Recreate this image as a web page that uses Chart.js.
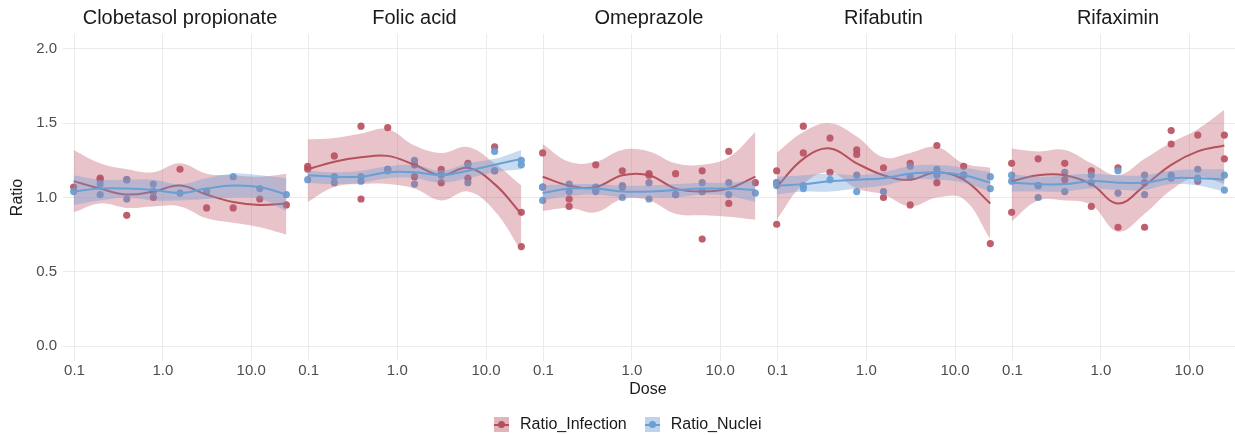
<!DOCTYPE html>
<html>
<head>
<meta charset="utf-8">
<script src="https://cdn.jsdelivr.net/npm/chart.js@4/dist/chart.umd.min.js"></script>
<style>
  body { margin: 0; background: #fff; font-family: "Liberation Sans", Arial, sans-serif; }
  #wrap { position: relative; width: 1235px; height: 435px; }
  .panel { position: absolute; top: 0; height: 384px; }
  #dose { position: absolute; top: 380px; left: 598px; width: 100px; text-align: center; font-size: 16px; color: #1a1a1a; }
  #legend { position: absolute; top: 415px; left: 494px; display: flex; align-items: center; font-size: 16px; color: #1a1a1a; }
  .key { position: relative; width: 15px; height: 15px; margin-right: 11px; }
  .key i { position: absolute; left: 0; right: 0; top: 7px; height: 2px; }
  .key b { position: absolute; left: 4px; top: 4px; width: 7px; height: 7px; border-radius: 50%; }
</style>
</head>
<body>
<div id="wrap">
  <div class="panel" style="left:0;width:297px"><canvas id="p0"></canvas></div>
  <div class="panel" style="left:297px;width:235px"><canvas id="p1"></canvas></div>
  <div class="panel" style="left:532px;width:234px"><canvas id="p2"></canvas></div>
  <div class="panel" style="left:766px;width:235px"><canvas id="p3"></canvas></div>
  <div class="panel" style="left:1001px;width:234px"><canvas id="p4"></canvas></div>
  <div id="dose">Dose</div>
  <div id="legend">
    <div class="key" style="background:rgba(190,90,105,0.45)"><i style="background:#b5505d"></i><b style="background:#b5505d"></b></div>
    <span style="margin-right:18px">Ratio_Infection</span>
    <div class="key" style="background:rgba(110,160,215,0.45)"><i style="background:#6a9fd3"></i><b style="background:#6a9fd3"></b></div>
    <span>Ratio_Nuclei</span>
  </div>
</div>
<script>
// doses (2-fold dilution)
const doses = [0.0977, 0.195, 0.39, 0.78, 1.5625, 3.125, 6.25, 12.5, 25];
const drugs = ['Clobetasol propionate', 'Folic acid', 'Omeprazole', 'Rifabutin', 'Rifaximin'];
const xTicks = [0.1, 1, 10];
const yTicks = [0, 0.5, 1, 1.5, 2];

// points: [dose index, ratio]
const clobInfPts = [[0,1.07],[1,1.13],[1,1.12],[2,0.88],[2,1.12],[3,1.00],[3,1.04],[4,1.19],[5,0.93],[6,0.93],[7,0.99],[8,0.95]];
const clobNucPts = [[0,1.04],[1,1.09],[1,1.02],[2,1.12],[2,0.99],[3,1.09],[3,1.04],[4,1.03],[5,1.04],[6,1.14],[7,1.06],[8,1.02]];
const folicInfPts = [[0,1.21],[0,1.19],[1,1.28],[2,1.48],[2,0.99],[3,1.47],[3,1.19],[4,1.22],[4,1.14],[5,1.19],[5,1.10],[6,1.23],[6,1.13],[7,1.34],[7,1.18],[8,0.90],[8,0.67]];
const folicNucPts = [[0,1.12],[1,1.14],[1,1.10],[2,1.14],[2,1.11],[3,1.19],[3,1.18],[4,1.25],[4,1.09],[5,1.16],[5,1.15],[6,1.10],[6,1.22],[7,1.31],[7,1.18],[8,1.25],[8,1.22]];
const omeInfPts = [[0,1.30],[0,1.07],[1,0.99],[1,0.94],[2,1.22],[2,1.05],[3,1.18],[3,1.07],[4,1.15],[4,1.16],[5,1.16],[5,1.02],[6,1.18],[6,0.72],[6,1.04],[7,1.31],[7,0.96],[8,1.10]];
const omeNucPts = [[0,1.07],[0,0.98],[1,1.09],[1,1.04],[2,1.07],[2,1.04],[3,1.08],[3,1.00],[4,1.10],[4,0.99],[5,1.02],[6,1.10],[6,1.04],[7,1.10],[7,1.02],[8,1.03]];
const rifbInfPts = [[0,1.18],[0,0.82],[0,1.10],[1,1.48],[1,1.30],[2,1.40],[2,1.17],[3,1.32],[3,1.29],[4,1.20],[4,1.00],[5,1.23],[5,0.95],[6,1.35],[6,1.10],[7,1.21],[7,1.15],[8,0.69]];
const rifbNucPts = [[0,1.10],[0,1.08],[1,1.08],[1,1.06],[2,1.12],[3,1.15],[3,1.04],[4,1.04],[5,1.21],[5,1.14],[6,1.19],[6,1.15],[7,1.15],[8,1.14],[8,1.06]];
const rifxInfPts = [[0,1.23],[0,0.90],[1,1.26],[1,1.08],[2,1.23],[2,1.12],[3,1.18],[3,0.94],[4,1.20],[4,0.80],[5,0.80],[5,1.10],[6,1.45],[6,1.36],[7,1.42],[7,1.11],[8,1.42],[8,1.26]];
const rifxNucPts = [[0,1.15],[0,1.11],[1,1.08],[1,1.00],[2,1.17],[2,1.04],[3,1.15],[3,1.10],[4,1.18],[4,1.03],[5,1.15],[5,1.02],[6,1.15],[6,1.13],[7,1.19],[7,1.13],[8,1.15],[8,1.05]];

// smooth fits and bands, one value per dose
const clobInfFit = [1.11,1.06,1.02,1.04,1.08,1.02,0.97,0.95,0.96];
const clobInfHi  = [1.32,1.23,1.19,1.17,1.23,1.16,1.15,1.14,1.16];
const clobInfLo  = [0.90,0.96,0.93,0.94,0.94,0.86,0.83,0.80,0.75];
const clobNucFit = [1.04,1.06,1.06,1.05,1.03,1.06,1.08,1.07,1.02];
const clobNucHi  = [1.15,1.12,1.12,1.12,1.09,1.13,1.16,1.15,1.13];
const clobNucLo  = [0.95,0.98,1.00,0.98,0.98,0.99,1.00,0.99,0.91];

const folicInfFit = [1.19,1.24,1.27,1.28,1.22,1.15,1.20,1.09,0.89];
const folicInfHi  = [1.39,1.40,1.43,1.46,1.35,1.30,1.34,1.23,1.08];
const folicInfLo  = [0.97,1.07,1.09,1.09,1.06,0.98,1.04,0.91,0.64];
const folicNucFit = [1.15,1.14,1.14,1.17,1.17,1.15,1.18,1.22,1.26];
const folicNucHi  = [1.18,1.17,1.18,1.21,1.22,1.18,1.23,1.26,1.32];
const folicNucLo  = [1.10,1.09,1.10,1.13,1.13,1.10,1.13,1.17,1.19];

const omeInfFit = [1.14,1.08,1.07,1.15,1.15,1.06,1.04,1.06,1.14];
const omeInfHi  = [1.36,1.24,1.24,1.32,1.31,1.23,1.22,1.27,1.44];
const omeInfLo  = [0.91,0.93,0.90,0.99,0.98,0.89,0.88,0.87,0.85];
const omeNucFit = [1.03,1.06,1.06,1.04,1.04,1.05,1.06,1.06,1.05];
const omeNucHi  = [1.08,1.09,1.09,1.08,1.08,1.09,1.10,1.10,1.12];
const omeNucLo  = [0.98,1.01,1.02,1.00,1.00,1.00,1.02,1.01,0.97];

const rifbInfFit = [1.07,1.26,1.33,1.23,1.15,1.12,1.17,1.12,0.96];
const rifbInfHi  = [1.30,1.44,1.50,1.41,1.27,1.30,1.34,1.23,1.20];
const rifbInfLo  = [0.85,1.09,1.17,1.06,1.02,0.94,1.00,0.99,0.72];
const rifbNucFit = [1.08,1.09,1.11,1.12,1.13,1.16,1.17,1.15,1.10];
const rifbNucHi  = [1.14,1.15,1.16,1.15,1.17,1.21,1.22,1.20,1.17];
const rifbNucLo  = [1.02,1.04,1.04,1.06,1.08,1.12,1.12,1.10,1.04];

const rifxInfFit = [1.11,1.15,1.15,1.09,0.96,1.08,1.22,1.31,1.35];
const rifxInfHi  = [1.33,1.31,1.32,1.23,1.15,1.26,1.37,1.46,1.59];
const rifxInfLo  = [0.84,0.98,0.98,0.95,0.77,0.89,1.05,1.14,1.09];
const rifxNucFit = [1.10,1.09,1.09,1.11,1.10,1.10,1.13,1.13,1.12];
const rifxNucHi  = [1.16,1.14,1.15,1.16,1.15,1.15,1.18,1.19,1.19];
const rifxNucLo  = [1.04,1.04,1.04,1.06,1.05,1.05,1.09,1.08,1.04];

const panels = [
  { inf: clobInfPts,  nuc: clobNucPts,  infFit: clobInfFit,  infHi: clobInfHi,  infLo: clobInfLo,  nucFit: clobNucFit,  nucHi: clobNucHi,  nucLo: clobNucLo },
  { inf: folicInfPts, nuc: folicNucPts, infFit: folicInfFit, infHi: folicInfHi, infLo: folicInfLo, nucFit: folicNucFit, nucHi: folicNucHi, nucLo: folicNucLo },
  { inf: omeInfPts,   nuc: omeNucPts,   infFit: omeInfFit,   infHi: omeInfHi,   infLo: omeInfLo,   nucFit: omeNucFit,   nucHi: omeNucHi,   nucLo: omeNucLo },
  { inf: rifbInfPts,  nuc: rifbNucPts,  infFit: rifbInfFit,  infHi: rifbInfHi,  infLo: rifbInfLo,  nucFit: rifbNucFit,  nucHi: rifbNucHi,  nucLo: rifbNucLo },
  { inf: rifxInfPts,  nuc: rifxNucPts,  infFit: rifxInfFit,  infHi: rifxInfHi,  infLo: rifxInfLo,  nucFit: rifxNucFit,  nucHi: rifxNucHi,  nucLo: rifxNucLo }
];

const RED = '#b5505d', BLUE = '#6a9fd3';
const RED_PT = 'rgba(183,78,92,0.9)', BLUE_PT = 'rgba(106,159,211,0.95)';
const RED_BAND = 'rgba(190,90,105,0.36)', BLUE_BAND = 'rgba(110,160,215,0.38)';
const FONT = '"Liberation Sans", Arial, sans-serif';
const GRID = '#ebebeb';

// 5% expansion on the log axis, like ggplot
const span = Math.log10(doses[8]) - Math.log10(doses[0]);
const xMin = Math.pow(10, Math.log10(doses[0]) - 0.05 * span);
const xMax = Math.pow(10, Math.log10(doses[8]) + 0.05 * span);

const pts = arr => arr.map(p => ({ x: doses[p[0]], y: p[1] }));
const curve = arr => arr.map((v, i) => ({ x: doses[i], y: v }));

function bandLine(data, color, fill) {
  return { data: curve(data), borderWidth: 0, pointRadius: 0, tension: 0.4,
           backgroundColor: color, fill: fill };
}

// no label overhang padding, so facets sit edge to edge
function noPad(s) {
  s.paddingLeft = 0; s.paddingRight = 0; s.paddingTop = 0; s.paddingBottom = 0;
}

panels.forEach((p, i) => {
  const first = i === 0;
  const ctx = document.getElementById('p' + i).getContext('2d');
  new Chart(ctx, {
    type: 'line',
    data: {
      datasets: [
        { data: curve(p.nucFit), borderColor: BLUE, borderWidth: 2, pointRadius: 0, tension: 0.4, fill: false },
        bandLine(p.nucHi, BLUE_BAND, '+1'),
        bandLine(p.nucLo, BLUE_BAND, false),
        { data: curve(p.infFit), borderColor: RED, borderWidth: 2, pointRadius: 0, tension: 0.4, fill: false },
        bandLine(p.infHi, RED_BAND, '+1'),
        bandLine(p.infLo, RED_BAND, false),
        { data: pts(p.nuc), showLine: false, pointRadius: 3.6, pointBackgroundColor: BLUE_PT, pointBorderWidth: 0 },
        { data: pts(p.inf), showLine: false, pointRadius: 3.6, pointBackgroundColor: RED_PT, pointBorderWidth: 0 }
      ]
    },
    options: {
      animation: false,
      responsive: true,
      maintainAspectRatio: false,
      layout: { padding: 0, autoPadding: false },
      plugins: {
        legend: { display: false },
        tooltip: { enabled: false },
        title: {
          display: true, text: drugs[i], fullSize: false,
          color: '#1a1a1a', font: { family: FONT, size: 20, weight: 'normal' },
          padding: { top: 6, bottom: 4 }
        }
      },
      scales: {
        x: {
          type: 'logarithmic', min: xMin, max: xMax,
          afterBuildTicks: s => { s.ticks = xTicks.map(v => ({ value: v })); },
          afterFit: s => { s.height = 23; noPad(s); },
          ticks: { callback: v => Number(v).toFixed(1), autoSkip: false, maxRotation: 0,
                   padding: 1, color: '#4d4d4d', font: { family: FONT, size: 15 } },
          grid: { color: GRID, lineWidth: 1, drawTicks: false },
          border: { display: false }
        },
        y: {
          min: -0.1, max: 2.1,
          afterBuildTicks: s => { s.ticks = yTicks.map(v => ({ value: v })); },
          afterFit: s => { s.width = first ? 63 : 0; noPad(s); },
          ticks: { display: first, callback: v => Number(v).toFixed(1),
                   padding: 6, color: '#4d4d4d', font: { family: FONT, size: 15 } },
          title: { display: first, text: 'Ratio', color: '#1a1a1a',
                   font: { family: FONT, size: 16 }, padding: { top: 8 } },
          grid: { color: GRID, lineWidth: 1, drawTicks: false },
          border: { display: false }
        }
      }
    }
  });
});
</script>
</body>
</html>
